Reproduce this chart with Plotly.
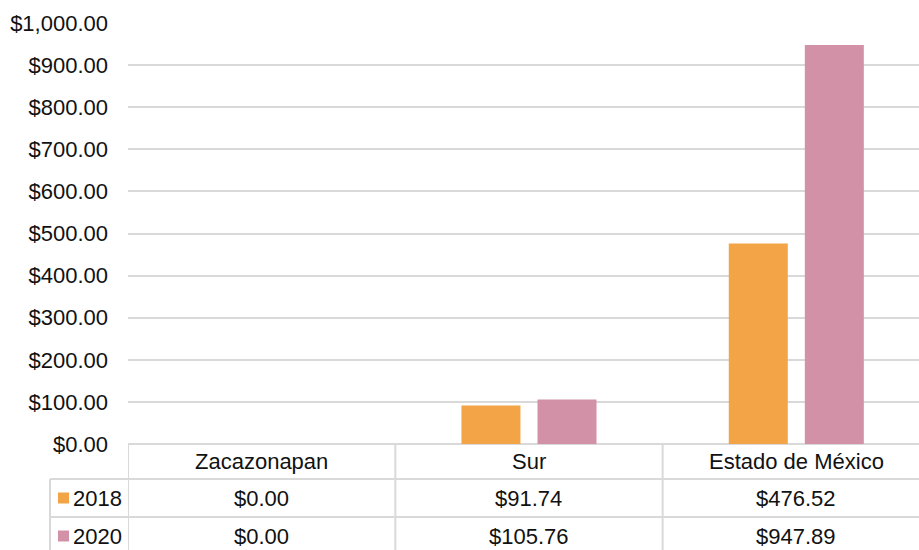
import plotly.graph_objects as go

# Data
categories = ["Zacazonapan", "Sur", "Estado de México"]
series_names = ["2018", "2020"]
values_2018 = [0.00, 91.74, 476.52]
values_2020 = [0.00, 105.76, 947.89]
series_colors = ["#F2A447", "#D291A6"]
y_ticks = list(range(0, 1001, 100))

W, H = 919, 550
M_L, M_T, M_B = 128, 23, 106
PLOT_W = W - M_L
PLOT_H = H - M_T - M_B
FONT = "Liberation Sans, Arial, sans-serif"
FS = 22
TXT = "#111111"
GRID = "#D9D9D9"


def px_to_py(py):
    # pixel row -> paper y
    return (H - M_B - py) / PLOT_H


def px_to_px(px):
    # pixel column -> paper x
    return (px - M_L) / PLOT_W


fig = go.Figure()
for name, vals, col in zip(series_names, [values_2018, values_2020], series_colors):
    fig.add_trace(go.Bar(
        x=list(range(len(categories))), y=vals, name=name,
        marker=dict(color=col, line=dict(width=0)),
        showlegend=False,
    ))

# Data table under the plot
row_centers = [461.5, 498, 536]
shapes = []
line = dict(color=GRID, width=2)
# horizontal rules
for py, x0 in [(479, 50), (517, 50)]:
    shapes.append(dict(type="line", xref="paper", yref="paper",
                       x0=px_to_px(x0), x1=1.0, y0=px_to_py(py), y1=px_to_py(py), line=line))
# vertical rules
shapes.append(dict(type="line", xref="paper", yref="paper",
                   x0=px_to_px(50), x1=px_to_px(50), y0=px_to_py(479), y1=px_to_py(560), line=line))
for xv in [-0.5, 0.5, 1.5]:
    shapes.append(dict(type="line", xref="x", yref="paper",
                       x0=xv, x1=xv, y0=0, y1=px_to_py(560), line=line))
# legend keys
for col, yc in zip(series_colors, row_centers[1:]):
    shapes.append(dict(type="rect", xref="paper", yref="paper",
                       x0=px_to_px(58), x1=px_to_px(69),
                       y0=px_to_py(yc + 5.5), y1=px_to_py(yc - 5.5),
                       fillcolor=col, line=dict(width=0)))

annotations = []
for i, cat in enumerate(categories):
    annotations.append(dict(x=i, xref="x", y=px_to_py(row_centers[0]), yref="paper",
                            text=cat, showarrow=False, xanchor="center", yanchor="middle",
                            font=dict(family=FONT, size=FS, color=TXT)))
for name, vals, yc in zip(series_names, [values_2018, values_2020], row_centers[1:]):
    annotations.append(dict(x=px_to_px(71), xref="paper", y=px_to_py(yc), yref="paper",
                            text=name, showarrow=False, xanchor="left", yanchor="middle",
                            font=dict(family=FONT, size=FS, color=TXT)))
    for i, v in enumerate(vals):
        annotations.append(dict(x=i, xref="x", y=px_to_py(yc), yref="paper",
                                text=f"${v:,.2f}", showarrow=False,
                                xanchor="center", yanchor="middle",
                                font=dict(family=FONT, size=FS, color=TXT)))

fig.update_layout(
    width=W, height=H, autosize=False,
    margin=dict(l=M_L, r=0, t=M_T, b=M_B, pad=0),
    paper_bgcolor="white", plot_bgcolor="white",
    barmode="group", bargap=0.431, bargroupgap=0.224,
    font=dict(family=FONT, size=FS, color=TXT),
    shapes=shapes, annotations=annotations,
)
fig.update_xaxes(range=[-0.5, 2.459], showticklabels=False, showgrid=False,
                 zeroline=False, showline=False, fixedrange=True)
fig.update_yaxes(range=[0, 1000], tickvals=y_ticks, tickformat="$,.2f",
                 showgrid=True, gridcolor=GRID, gridwidth=2,
                 zeroline=True, zerolinecolor=GRID, zerolinewidth=2,
                 showline=False, ticks="", ticklabelstandoff=19,
                 tickfont=dict(family=FONT, size=FS, color=TXT), fixedrange=True)

fig.write_html("out.html")
